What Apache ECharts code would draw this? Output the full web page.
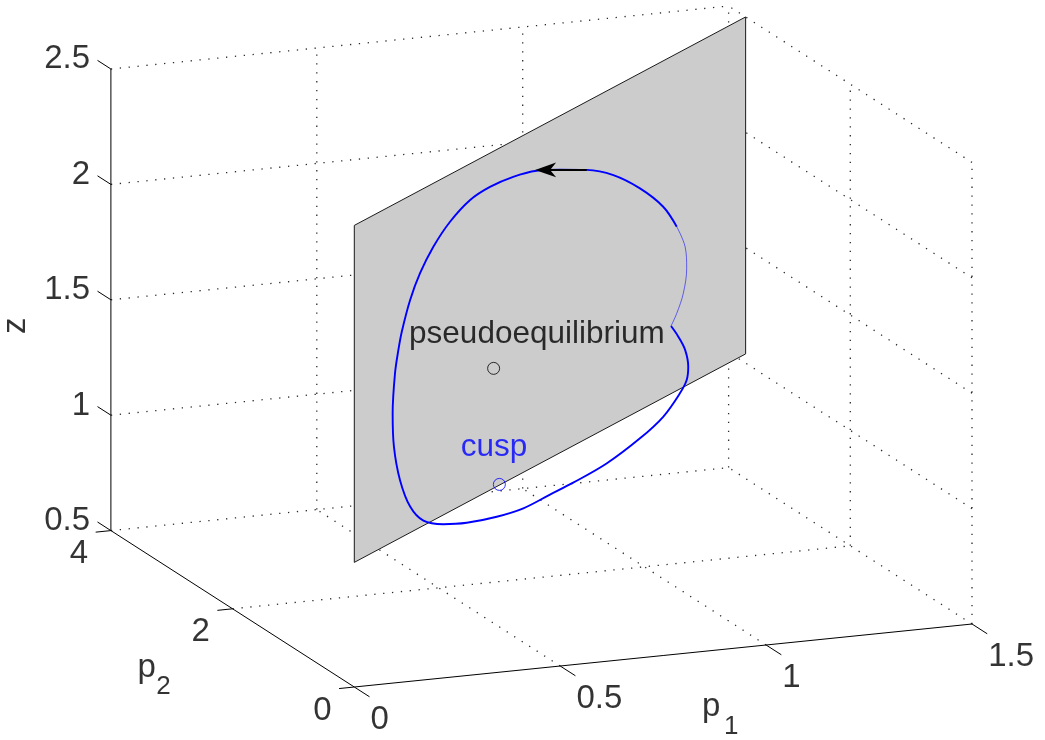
<!DOCTYPE html>
<html><head><meta charset="utf-8">
<script src="https://cdn.jsdelivr.net/npm/echarts@6/dist/echarts.min.js"></script>
<style>html,body{margin:0;padding:0;background:#fff}#c{width:1045px;height:740px}</style>
</head><body><div id="c"></div>
<script>
// ---------------- data ----------------
const P1_TICKS = [0, 0.5, 1, 1.5];
const P2_TICKS = [0, 2, 4];
const Z_TICKS  = [0.5, 1, 1.5, 2, 2.5];
const P1_RANGE = [0, 1.5];
const P2_RANGE = [0, 4];
const Z_RANGE  = [0.5, 2.5];

// switching plane p2 = PLANE_SLOPE * p1, drawn for p1 in PLANE_P1, z in PLANE_Z
const PLANE_SLOPE = 2.48;
const PLANE_P1 = [0, 1.5];
const PLANE_Z  = [1.04, 2.5];

// orbit (lies on the plane): p1 and z of each point
const ORBIT_P1 = [1.236, 1.184, 1.095, 0.993, 0.891, 0.788, 0.699, 0.609, 0.520, 0.444,
                  0.367, 0.303, 0.252, 0.214, 0.182, 0.169, 0.156, 0.147, 0.152, 0.175,
                  0.214, 0.265, 0.341, 0.431, 0.546, 0.648, 0.750, 0.839, 0.967, 1.095,
                  1.184, 1.248, 1.274, 1.280, 1.268, 1.242, 1.214];
const ORBIT_Z  = [1.750, 1.868, 2.001, 2.120, 2.204, 2.267, 2.316, 2.344, 2.354, 2.343,
                  2.295, 2.225, 2.141, 2.048, 1.930, 1.859, 1.765, 1.597, 1.449, 1.292,
                  1.153, 1.061, 1.000, 0.952, 0.909, 0.884, 0.882, 0.880, 0.886, 0.918,
                  0.958, 1.021, 1.063, 1.117, 1.197, 1.270, 1.333];
// sliding part of the orbit (drawn faint)
const SLIDE_P1 = [1.214, 1.236, 1.261, 1.274, 1.268, 1.236];
const SLIDE_Z  = [1.333, 1.375, 1.446, 1.547, 1.644, 1.750];

const PSEUDO_EQ = { p1: 0.534, z: 1.559, label: 'pseudoequilibrium' };
const CUSP      = { p1: 0.556, z: 1.043, label: 'cusp' };
const ARROW     = { tip: [0.693, 2.323], tail: [0.891, 2.204] };

// ---------------- view (orthographic camera, page pixels) ----------------
const VIEW = { ox: 354.3, oy: 687, e1: [411.8, -42.0], e2: [-60.85, -39.1], e3: [0, -230.8] };
function proj(p1, p2, z) {
  const dz = z - Z_RANGE[0];
  return [VIEW.ox + p1 * VIEW.e1[0] + p2 * VIEW.e2[0] + dz * VIEW.e3[0],
          VIEW.oy + p1 * VIEW.e1[1] + p2 * VIEW.e2[1] + dz * VIEW.e3[1]];
}
function onPlane(p1, z) { return proj(p1, PLANE_SLOPE * p1, z); }

const FONT = "'Liberation Sans', Arial, Helvetica, sans-serif";
const GAP = ['-', '-'];
const NOBORDER = { textBorderWidth: 0, textBorderColor: 'transparent', textShadowBlur: 0 };

// grid lines (dotted) on back wall, right wall and floor
const gridData = [];
function gseg(a, b) { gridData.push(proj(...a), proj(...b), GAP); }
const p1Max = P1_RANGE[1], p2Max = P2_RANGE[1], z0 = Z_RANGE[0], z1 = Z_RANGE[1];
Z_TICKS.forEach(z => gseg([0, p2Max, z], [p1Max, p2Max, z]));
P1_TICKS.filter(v => v > 0).forEach(p => gseg([p, p2Max, z0], [p, p2Max, z1]));
Z_TICKS.forEach(z => gseg([p1Max, 0, z], [p1Max, p2Max, z]));
P2_TICKS.filter(v => v < p2Max).forEach(p => gseg([p1Max, p, z0], [p1Max, p, z1]));
P1_TICKS.filter(v => v > 0 && v < p1Max).forEach(p => gseg([p, 0, z0], [p, p2Max, z0]));
P2_TICKS.filter(v => v > 0 && v < p2Max).forEach(p => gseg([0, p, z0], [p1Max, p, z0]));

// axes + ticks (solid)
const axisData = [];
function aseg(a, b) { axisData.push(proj(...a), proj(...b), GAP); }
aseg([0, 0, z0], [p1Max, 0, z0]);
aseg([0, 0, z0], [0, p2Max, z0]);
aseg([0, p2Max, z0], [0, p2Max, z1]);
const labels = [];
function lab(pt, text, align, off) {
  labels.push({ value: pt, name: text,
    label: Object.assign({ align: align, verticalAlign: 'middle', offset: off }, NOBORDER) });
}
P1_TICKS.forEach(p => { aseg([p, 0, z0], [p, -0.25, z0]); lab(proj(p, -0.25, z0), String(p), 'left', [1, 23.5]); });
P2_TICKS.forEach(p => { aseg([0, p, z0], [-0.037, p, z0]); lab(proj(-0.037, p, z0), String(p), 'right', [-7.5, 22]); });
Z_TICKS.forEach(z => { aseg([0, p2Max, z], [0, p2Max + 0.22, z]); lab(proj(0, p2Max + 0.22, z), String(z), 'right', [-7.5, -1]); });

// axis titles
const titles = [];
function ttl(pt, text, off, size, rot) {
  titles.push({ value: pt, name: text,
    label: Object.assign({ offset: off, fontSize: size, rotate: rot || 0 }, NOBORDER) });
}
const mP1 = proj((P1_RANGE[0] + P1_RANGE[1]) / 2, 0, z0);
const mP2 = proj(0, (P2_RANGE[0] + P2_RANGE[1]) / 2, z0);
const mZ  = proj(0, p2Max, (Z_RANGE[0] + Z_RANGE[1]) / 2);
ttl(mP1, 'p', [48, 51.5], 33); ttl(mP1, '1', [68, 71], 26);
ttl(mP2, 'p', [-86, 59], 33);  ttl(mP2, '2', [-69, 78], 26);
ttl(mZ, 'z', [-26, -95.4], 33, 90);   // offset is given in the rotated label frame

const orbit = ORBIT_P1.map((p, i) => onPlane(p, ORBIT_Z[i]));
const slide = SLIDE_P1.map((p, i) => onPlane(p, SLIDE_Z[i]));
const planeCorners = [onPlane(PLANE_P1[0], PLANE_Z[0]), onPlane(PLANE_P1[1], PLANE_Z[0]),
                      onPlane(PLANE_P1[1], PLANE_Z[1]), onPlane(PLANE_P1[0], PLANE_Z[1])];
const tip = onPlane(ARROW.tip[0], ARROW.tip[1]);
const tail = onPlane(ARROW.tail[0], ARROW.tail[1]);

const chart = echarts.init(document.getElementById('c'), null, { renderer: 'canvas' });
chart.setOption({
  animation: false,
  backgroundColor: '#fff',
  grid: { left: 0, right: 0, top: 0, bottom: 0, containLabel: false },
  xAxis: { type: 'value', min: 0, max: 1045, show: false },
  yAxis: { type: 'value', min: 0, max: 740, inverse: true, show: false },
  series: [
    { type: 'line', z: 1, data: gridData, showSymbol: false, symbol: 'none', connectNulls: false,
      lineStyle: { color: '#2a2a2a', width: 1.3, type: [1.3, 7.6] }, silent: true },
    { type: 'line', z: 2, data: axisData, showSymbol: false, symbol: 'none', connectNulls: false,
      lineStyle: { color: '#000', width: 1 }, silent: true },
    { type: 'custom', z: 3, data: [[0, 0]], silent: true,
      renderItem: function (params, api) {
        return { type: 'polygon', shape: { points: planeCorners.map(c => api.coord(c)) },
                 style: { fill: '#cccccc', stroke: '#1a1a1a', lineWidth: 1 } };
      } },
    { type: 'line', z: 4, data: orbit, smooth: 0.35, showSymbol: false, symbol: 'none',
      lineStyle: { color: '#0000ff', width: 1.9 }, silent: true },
    { type: 'line', z: 4, data: slide, smooth: 0.35, showSymbol: false, symbol: 'none',
      lineStyle: { color: '#0000ff', width: 1, opacity: 0.55 }, silent: true },
    { type: 'custom', z: 5, silent: true, data: [[tip[0], tip[1], tail[0], tail[1]]],
      encode: { x: [0, 2], y: [1, 3] },
      renderItem: function (params, api) {
        const t = api.coord([api.value(0), api.value(1)]);
        const s = api.coord([api.value(2), api.value(3)]);
        let dx = t[0] - s[0], dy = t[1] - s[1];
        const L = Math.hypot(dx, dy); dx /= L; dy /= L;
        const nx = -dy, ny = dx, len = 21, hw = 7.4, notch = 15;
        const bx = t[0] - dx * len, by = t[1] - dy * len;
        return { type: 'group', children: [
          { type: 'line', shape: { x1: s[0], y1: s[1], x2: t[0] - dx * 12, y2: t[1] - dy * 12 },
            style: { stroke: '#000', lineWidth: 2 } },
          { type: 'polygon', shape: { points: [t, [bx + nx * hw, by + ny * hw],
              [t[0] - dx * notch, t[1] - dy * notch], [bx - nx * hw, by - ny * hw]] },
            style: { fill: '#000' } }
        ] };
      } },
    { type: 'scatter', z: 6, silent: true, symbol: 'circle', symbolSize: 12,
      data: [
        { value: onPlane(PSEUDO_EQ.p1, PSEUDO_EQ.z), name: PSEUDO_EQ.label,
          itemStyle: { color: 'rgba(0,0,0,0)', borderColor: '#000', borderWidth: 1 },
          label: Object.assign({ show: true, color: '#000', offset: [43.3, -34.5] }, NOBORDER) },
        { value: onPlane(CUSP.p1, CUSP.z), name: CUSP.label,
          itemStyle: { color: 'rgba(0,0,0,0)', borderColor: '#0000ff', borderWidth: 1 },
          label: Object.assign({ show: true, color: '#0000ff', offset: [-5.3, -37.2] }, NOBORDER) }
      ],
      label: { show: true, position: 'inside', formatter: '{b}', fontSize: 31.5, fontFamily: FONT,
               align: 'center', verticalAlign: 'middle' } },
    { type: 'scatter', z: 7, silent: true, symbolSize: 1, itemStyle: { color: 'rgba(0,0,0,0)' },
      data: labels,
      label: { show: true, position: 'inside', formatter: '{b}', fontSize: 33, fontFamily: FONT, color: '#000' } },
    { type: 'scatter', z: 7, silent: true, symbolSize: 1, itemStyle: { color: 'rgba(0,0,0,0)' },
      data: titles,
      label: { show: true, position: 'inside', formatter: '{b}', fontFamily: FONT, color: '#000',
               align: 'center', verticalAlign: 'middle' } }
  ]
});
</script></body></html>
